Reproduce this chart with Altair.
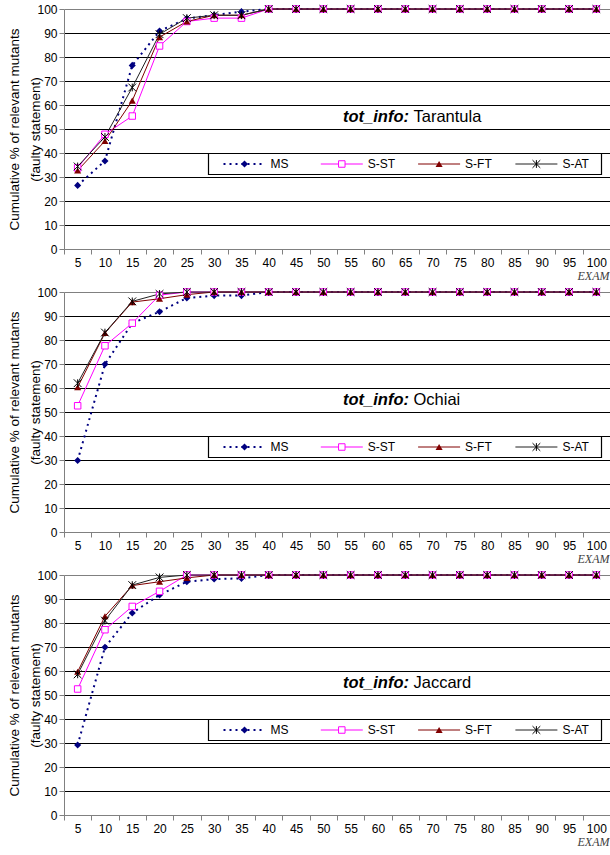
import altair as alt
import pandas as pd

# ---------------- data ----------------
exam = [5, 10, 15, 20, 25, 30, 35, 40, 45, 50, 55, 60, 65, 70, 75, 80, 85, 90, 95, 100]
series_names = ["MS", "S-ST", "S-FT", "S-AT"]
panel_names = ["Tarantula", "Ochiai", "Jaccard"]
y_ticks = [0, 10, 20, 30, 40, 50, 60, 70, 80, 90, 100]

tarantula_ms = [26.5, 36.7, 76.5, 90.8, 96.0, 97.5, 98.9, 100, 100, 100, 100, 100, 100, 100, 100, 100, 100, 100, 100, 100]
tarantula_sst = [33.8, 47.8, 55.4, 84.6, 94.8, 96.2, 96.2, 100, 100, 100, 100, 100, 100, 100, 100, 100, 100, 100, 100, 100]
tarantula_sft = [32.7, 45.0, 61.8, 88.3, 94.8, 97.4, 97.4, 100, 100, 100, 100, 100, 100, 100, 100, 100, 100, 100, 100, 100]
tarantula_sat = [34.4, 46.7, 67.3, 89.5, 96.2, 97.4, 97.4, 100, 100, 100, 100, 100, 100, 100, 100, 100, 100, 100, 100, 100]

ochiai_ms = [29.8, 69.9, 87.0, 91.8, 97.5, 98.5, 98.5, 100, 100, 100, 100, 100, 100, 100, 100, 100, 100, 100, 100, 100]
ochiai_sst = [52.6, 77.6, 87.0, 98.7, 100, 100, 100, 100, 100, 100, 100, 100, 100, 100, 100, 100, 100, 100, 100, 100]
ochiai_sft = [60.3, 82.9, 95.8, 97.2, 98.9, 100, 100, 100, 100, 100, 100, 100, 100, 100, 100, 100, 100, 100, 100, 100]
ochiai_sat = [62.0, 83.1, 96.1, 99.2, 100, 100, 100, 100, 100, 100, 100, 100, 100, 100, 100, 100, 100, 100, 100, 100]

jaccard_ms = [29.2, 69.9, 84.2, 91.7, 97.2, 98.3, 98.6, 100, 100, 100, 100, 100, 100, 100, 100, 100, 100, 100, 100, 100]
jaccard_sst = [52.5, 77.2, 86.9, 93.2, 100, 100, 100, 100, 100, 100, 100, 100, 100, 100, 100, 100, 100, 100, 100, 100]
jaccard_sft = [59.7, 82.8, 95.6, 97.2, 98.8, 100, 100, 100, 100, 100, 100, 100, 100, 100, 100, 100, 100, 100, 100, 100]
jaccard_sat = [58.6, 81.0, 95.8, 99.0, 100, 100, 100, 100, 100, 100, 100, 100, 100, 100, 100, 100, 100, 100, 100, 100]

panel_values = {
    "Tarantula": [tarantula_ms, tarantula_sst, tarantula_sft, tarantula_sat],
    "Ochiai": [ochiai_ms, ochiai_sst, ochiai_sft, ochiai_sat],
    "Jaccard": [jaccard_ms, jaccard_sst, jaccard_sft, jaccard_sat],
}

# ---------------- styles ----------------
W = 546
H = 240
HALF_BAND = W / len(exam) / 2
STAR = "M-1,-1L1,1M-1,1L1,-1M0,-1L0,1"

line_style = {
    "MS": dict(color="#000080", strokeWidth=2, strokeDash=[2, 4]),
    "S-ST": dict(color="#FF00FF", strokeWidth=1),
    "S-FT": dict(color="#800000", strokeWidth=1),
    "S-AT": dict(color="#202020", strokeWidth=1),
}
point_style = {
    "MS": dict(shape="diamond", filled=True, color="#000080", size=50, opacity=1),
    "S-ST": dict(shape="square", filled=True, fill="white", stroke="#FF00FF", strokeWidth=1, size=42, opacity=1),
    "S-FT": dict(shape="triangle-up", filled=True, color="#800000", size=50, opacity=1),
    "S-AT": dict(shape=STAR, filled=False, color="#000000", strokeWidth=1, size=60, opacity=1),
}

tick_vals = [v - 2.5 for v in exam]

x_enc = alt.X(
    "exam:Q",
    scale=alt.Scale(domain=[2.5, 102.5], nice=False, zero=False),
    axis=alt.Axis(
        values=tick_vals,
        labelExpr="datum.value + 2.5",
        labelOffset=HALF_BAND,
        labelFlush=False,
        labelOverlap=False,
        grid=False,
        tickSize=5,
        tickColor="#808080",
        domainColor="#808080",
        labelFontSize=12,
        labelPadding=3,
        labelColor="#000000",
        title="EXAM",
        titleFont="Liberation Serif",
        titleFontStyle="italic",
        titleFontWeight="normal",
        titleFontSize=12,
        titleColor="#404040",
        titleX=W - 1,
        titleY=26,
        titleAlign="right",
        titleBaseline="middle",
    ),
)

y_enc = alt.Y(
    "pct:Q",
    scale=alt.Scale(domain=[0, 100], nice=False),
    axis=alt.Axis(
        values=y_ticks,
        grid=True,
        gridColor={"condition": {"test": "datum.value === 100 || datum.value === 0", "value": "#808080"}, "value": "#000000"},
        gridWidth=1,
        tickSize=5,
        tickColor="#808080",
        domainColor="#808080",
        labelFontSize=12,
        labelPadding=2,
        labelColor="#000000",
        title=["Cumulative % of relevant mutants", "(faulty statement)"],
        titleFontSize=13.5,
        titleFontWeight="normal",
        titleColor="#000000",
        titleX=-42.5,
        titleY=H / 2,
        titleLineHeight=21,
    ),
)

one = pd.DataFrame({"k": [0]})


def make_panel(name):
    rows = []
    for s, vals in zip(series_names, panel_values[name]):
        for e, v in zip(exam, vals):
            rows.append({"exam": e, "pct": v, "series": s})
    df = pd.DataFrame(rows)

    layers = []
    for s in series_names:
        layers.append(
            alt.Chart(df).transform_filter(alt.datum.series == s)
            .mark_line(**line_style[s]).encode(x=x_enc, y=y_enc)
        )
    for s in series_names:
        layers.append(
            alt.Chart(df).transform_filter(alt.datum.series == s)
            .mark_point(**point_style[s]).encode(x=x_enc, y=y_enc)
        )

    # annotation
    ann_y = H * 0.45
    layers.append(
        alt.Chart(one).mark_text(align="left", baseline="middle", fontSize=16.5,
                                 fontWeight="bold", fontStyle="italic", color="black")
        .encode(x=alt.value(279), y=alt.value(ann_y), text=alt.value("tot_info:"))
    )
    layers.append(
        alt.Chart(one).mark_text(align="left", baseline="middle", fontSize=16.5, color="black")
        .encode(x=alt.value(349.5), y=alt.value(ann_y), text=alt.value(name))
    )

    # legend box
    lg_top, lg_bot = 144.5, 165.5
    lg_mid = (lg_top + lg_bot) / 2
    layers.append(
        alt.Chart(one).mark_rect(fill="white", stroke="black", strokeWidth=1.2)
        .encode(x=alt.value(144.5), x2=alt.value(537.5), y=alt.value(lg_top), y2=alt.value(lg_bot))
    )
    for i, s in enumerate(series_names):
        x0 = 159.5 + i * 97.3
        ls = dict(line_style[s])
        layers.append(
            alt.Chart(one).mark_rule(**ls)
            .encode(x=alt.value(x0), x2=alt.value(x0 + 42), y=alt.value(lg_mid))
        )
        layers.append(
            alt.Chart(one).mark_point(**point_style[s])
            .encode(x=alt.value(x0 + 21), y=alt.value(lg_mid))
        )
        layers.append(
            alt.Chart(one).mark_text(align="left", baseline="middle", fontSize=12, color="black")
            .encode(x=alt.value(x0 + 47), y=alt.value(lg_mid), text=alt.value(s))
        )

    return alt.layer(*layers).properties(width=W, height=H)


chart = alt.vconcat(
    *[make_panel(n) for n in panel_names], spacing=43, bounds="flush"
).properties(
    padding={"left": 7, "top": 3, "right": 0, "bottom": 0}
).configure(
    font="Liberation Sans"
).configure_view(
    stroke=None
)

chart.save("out.html", embed_options={"renderer": "svg", "actions": False})
